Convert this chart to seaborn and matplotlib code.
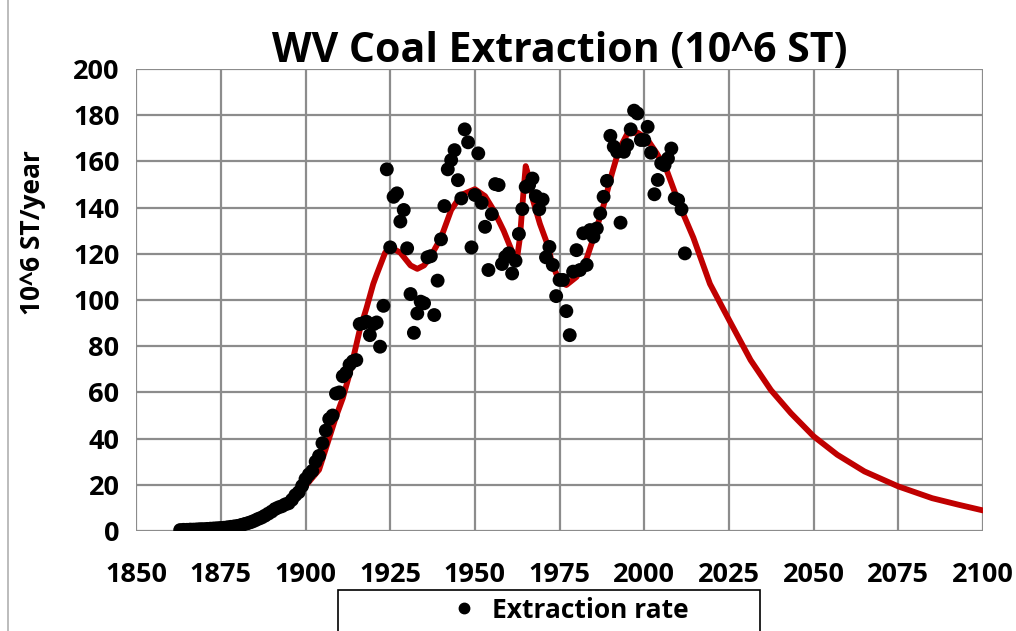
import numpy as np
import pandas as pd
import matplotlib
matplotlib.use("Agg")
import matplotlib.pyplot as plt
import seaborn as sns
from matplotlib.lines import Line2D
from matplotlib.patches import Rectangle

years = list(range(1863, 2013))
extraction = [
    0.4, 0.5, 0.5, 0.6, 0.6, 0.7, 0.8, 0.8, 0.9, 1.0,            # 1863-1872
    1.1, 1.2, 1.3, 1.4, 1.6, 1.8, 2.0, 2.2, 2.6, 3.0,            # 1873-1882
    3.4, 3.9, 4.5, 5.2, 5.8, 6.6, 7.5, 8.4, 9.5, 10.2,           # 1883-1892
    10.7, 11.5, 12.0, 13.5, 15.5, 16.8, 19.5, 22.5, 24.5, 26.0,  # 1893-1902
    30.0, 32.5, 38.0, 43.5, 48.5, 50.0, 59.5, 60.0, 67.0, 68.5,  # 1903-1912
    72.0, 73.5, 74.0, 89.6, 90.0, 90.6, 84.8, 89.5, 90.3, 79.8,  # 1913-1922
    97.5, 156.6, 122.8, 144.7, 146.2, 134.0, 139.0, 122.4, 102.6, 85.8,  # 1923-1932
    94.2, 99.3, 98.6, 118.5, 119.0, 93.5, 108.4, 126.3, 140.7, 156.6,    # 1933-1942
    160.6, 164.9, 151.9, 144.0, 173.9, 168.3, 122.8, 145.5, 163.5, 142.1,  # 1943-1952
    131.7, 113.0, 137.2, 150.2, 149.8, 115.6, 118.7, 120.2, 111.5, 117.0,  # 1953-1962
    128.6, 139.4, 149.0, 149.8, 152.6, 145.0, 139.3, 143.5, 118.5, 123.0,  # 1963-1972
    115.2, 101.7, 108.7, 108.7, 95.2, 84.8, 112.3, 121.6, 113.0, 128.9,    # 1973-1982
    115.2, 130.3, 127.4, 131.0, 137.5, 144.7, 151.6, 171.1, 166.4, 164.2,  # 1983-1992
    133.5, 164.2, 167.1, 173.9, 182.0, 180.8, 169.3, 169.3, 175.0, 163.8,  # 1993-2002
    145.8, 152.0, 159.2, 158.4, 161.3, 165.6, 144.0, 143.3, 139.3, 120.2,  # 2003-2012
]

#### fitted model curve
fit_years = [1863, 1870, 1875, 1880, 1885, 1890, 1895, 1900, 1904, 1909,
             1911, 1913, 1916, 1918, 1920, 1921, 1923.5, 1925, 1928, 1931,
             1933, 1935, 1937, 1940, 1943, 1946, 1950, 1953, 1955.5, 1958.5,
             1961, 1962.3, 1963.3, 1964.3, 1965, 1965.8, 1967.2, 1969.2, 1971.2, 1973,
             1975, 1977, 1980, 1983, 1985.5, 1988, 1990.5, 1992.5, 1995, 1998,
             2000.7, 2003.7, 2006.6, 2010.6, 2014.5, 2019.4, 2025, 2031.4, 2037.4, 2043.3,
             2050, 2057, 2065, 2075, 2085, 2092.7, 2100]
fit_values = [0.6, 1.2, 2.0, 3.3, 5.3, 8.3, 12.8, 19.5, 26.5, 49.5,
              57.5, 68.0, 87.0, 96.5, 107.0, 111.0, 120.5, 123.0, 120.5, 115.0,
              113.5, 115.0, 119.0, 127.0, 139.0, 145.5, 148.0, 145.0, 139.0, 130.0,
              121.0, 116.5, 127.0, 146.0, 158.0, 154.0, 143.0, 133.0, 125.0, 115.0,
              108.0, 106.5, 110.0, 118.0, 129.0, 141.0, 155.0, 165.0, 172.0, 172.5,
              170.0, 163.5, 156.3, 140.4, 127.0, 107.0, 91.5, 74.0, 61.0, 51.0,
              41.0, 33.0, 25.8, 19.3, 14.2, 11.4, 8.9]

x_ticks = list(range(1850, 2101, 25))
y_ticks = list(range(0, 201, 20))

obs = pd.DataFrame({"Year": years, "Extraction rate": extraction})
fit = pd.DataFrame({"Year": fit_years, "Model": fit_values})

sns.set_theme(style="white")
plt.rcParams["font.family"] = ["Open Sans", "DejaVu Sans"]
plt.rcParams["font.weight"] = "bold"
plt.rcParams["text.color"] = "black"

fig = plt.figure(figsize=(10.16, 6.31), dpi=100)
ax = fig.add_axes([0.134, 0.1585, 0.8335, 0.732])

grid_col = "#8c8c8c"
sns.lineplot(data=fit, x="Year", y="Model", color="#c00000", lw=4.2,
             ax=ax, zorder=2, legend=False)
sns.scatterplot(data=obs, x="Year", y="Extraction rate", color="black",
                s=100, edgecolor="none", ax=ax, zorder=3, legend=False)

ax.set_xlim(1850, 2100)
ax.set_ylim(0, 200)
ax.set_xticks(x_ticks)
ax.set_yticks(y_ticks)
ax.grid(True, color=grid_col, lw=1.6)
ax.set_axisbelow(True)
for s in ["left", "bottom", "right", "top"]:
    ax.spines[s].set_visible(False)
ax.tick_params(axis="both", length=7, width=1.6, color=grid_col,
               labelsize=19.5, labelcolor="black")
ax.tick_params(axis="x", pad=15)
ax.tick_params(axis="y", pad=5)
for lab in ax.get_xticklabels() + ax.get_yticklabels():
    lab.set_fontweight("bold")

ax.set_xlabel("")
ax.set_ylabel("10^6 ST/year", fontsize=19, fontweight="bold", color="black")
ax.yaxis.set_label_coords(-0.106, 0.647)
ax.set_title("WV Coal Extraction (10^6 ST)", fontsize=29.5, fontweight="bold",
             color="black", pad=5)

# legend box spans wider than its content, as in the source chart
fig.add_artist(Rectangle((338 / 1016, -0.01), 422 / 1016, 41 / 631 + 0.01,
                         transform=fig.transFigure, fill=False,
                         edgecolor="black", lw=1.2))
handle = Line2D([], [], marker="o", ls="none", color="black", markersize=7.5)
leg = fig.legend([handle], ["Extraction rate"], loc="center",
                 bbox_to_anchor=(568 / 1016, 1 - 610 / 631), frameon=False,
                 prop={"weight": "bold", "size": 19},
                 handletextpad=0.4, handlelength=1.3)

fig.add_artist(Line2D([8 / 1016, 8 / 1016], [0, 1], color="#b0b0b0", lw=1.2))

fig.savefig("out.png", dpi=100)
